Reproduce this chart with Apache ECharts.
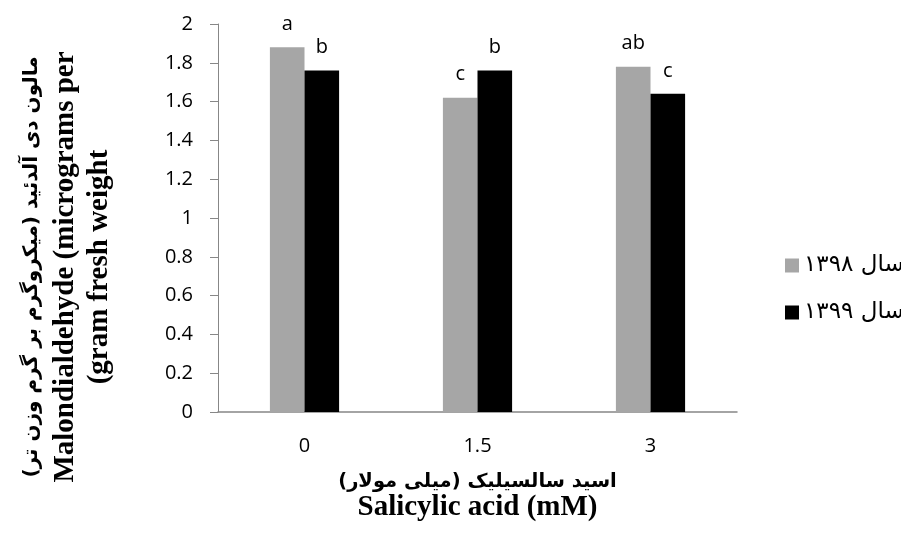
<!DOCTYPE html>
<html>
<head>
<meta charset="utf-8">
<script src="https://cdn.jsdelivr.net/npm/echarts@6/dist/echarts.min.js"></script>
<style>
html,body{margin:0;padding:0;background:#fff;}
#chart{width:901px;height:549px;}
</style>
</head>
<body>
<div id="chart"></div>
<script>
// Data
const categories = ['0', '1.5', '3'];
const seriesNames = ['سال ۱۳۹۸', 'سال ۱۳۹۹'];
const values1398 = [1.88, 1.62, 1.78];
const values1399 = [1.76, 1.76, 1.64];
const letters1398 = ['a', 'c', 'ab'];
const letters1399 = ['b', 'b', 'c'];
const yTicks = { min: 0, max: 2, interval: 0.2 };
const yTitleLines = ['مالون دی آلدئید (میکروگرم بر گرم وزن تر)', 'Malondialdehyde (micrograms per', '(gram fresh weight'];
const xTitleLines = ['اسید سالسیلیک (میلی مولار)', 'Salicylic acid (mM)'];

const tickFont = '"Open Sans", sans-serif';
const serif = '"Liberation Serif", "DejaVu Serif", serif';
const faFont = '"DejaVu Sans", sans-serif';

const chart = echarts.init(document.getElementById('chart'), null, { renderer: 'canvas' });

function labelFor(letters) {
  return {
    show: true,
    position: 'top',
    distance: 13,
    fontFamily: tickFont,
    fontSize: 20,
    color: '#000',
    formatter: p => letters[p.dataIndex]
  };
}

const yTitleX = [32, 66, 100];
const yTitleStyles = [
  { fontFamily: faFont, fontWeight: 'bold', fontSize: 20 },
  { fontFamily: serif, fontWeight: 'bold', fontSize: 29 },
  { fontFamily: serif, fontWeight: 'bold', fontSize: 29 }
];

const option = {
  animation: false,
  backgroundColor: '#fff',
  grid: { left: 218, right: 164, top: 24, bottom: 137, containLabel: false },
  legend: {
    orient: 'vertical',
    left: 780,
    top: 249,
    itemWidth: 14,
    itemHeight: 14,
    itemGap: 24,
    icon: 'rect',
    textStyle: { fontFamily: faFont, fontSize: 23, color: '#000' },
    data: seriesNames
  },
  graphic: yTitleLines.map((t, i) => ({
    type: 'text',
    x: yTitleX[i],
    y: 267,
    rotation: Math.PI / 2,
    style: Object.assign({ text: t, fill: '#000', align: 'center', verticalAlign: 'middle' }, yTitleStyles[i])
  })),
  xAxis: {
    type: 'category',
    data: categories,
    axisLine: { lineStyle: { color: '#878787', width: 1.5 } },
    axisTick: { show: false },
    axisLabel: { fontFamily: tickFont, fontSize: 20, color: '#000', margin: 24 },
    name: '{fa|' + xTitleLines[0] + '}\n{en|' + xTitleLines[1] + '}',
    nameLocation: 'middle',
    nameGap: 57,
    nameTextStyle: {
      rich: {
        fa: { fontFamily: faFont, fontWeight: 'bold', fontSize: 19.5, lineHeight: 26, color: '#000' },
        en: { fontFamily: serif, fontWeight: 'bold', fontSize: 29, lineHeight: 26, color: '#000' }
      }
    }
  },
  yAxis: {
    type: 'value',
    min: yTicks.min,
    max: yTicks.max,
    interval: yTicks.interval,
    splitLine: { show: false },
    axisLine: { show: true, lineStyle: { color: '#878787', width: 1 } },
    axisTick: { show: true, length: 8, lineStyle: { color: '#878787' } },
    axisLabel: { fontFamily: tickFont, fontSize: 20, color: '#000', margin: 25 }
  },
  series: [
    {
      name: seriesNames[0],
      type: 'bar',
      data: values1398,
      barWidth: '20%',
      barGap: '0%',
      itemStyle: { color: '#A6A6A6' },
      label: labelFor(letters1398)
    },
    {
      name: seriesNames[1],
      type: 'bar',
      data: values1399,
      barWidth: '20%',
      barGap: '0%',
      itemStyle: { color: '#000000' },
      label: labelFor(letters1399)
    }
  ]
};

chart.setOption(option);
</script>
</body>
</html>
